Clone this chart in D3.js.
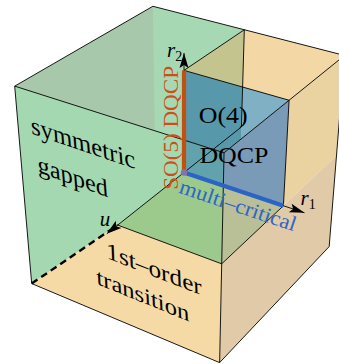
<!DOCTYPE html>
<html>
<head>
<meta charset="utf-8">
<script src="https://cdn.jsdelivr.net/npm/d3@7"></script>
<style>
  html, body { margin: 0; padding: 0; background: #ffffff; }
  svg { display: block; }
</style>
</head>
<body>
<div id="chart"></div>
<script>
// Phase diagram in the (r1, r2, u) parameter cube, every coordinate in [-1, 1].

// named points of the cube, as [name, r1, r2, u]
const vertices = [
  ["a", -1, 1, 1], ["b", -1, 1, -1], ["c", 1, 1, -1], ["d", 1, 1, 1],
  ["e", -1, -1, 1], ["f", 1, -1, 1], ["g", 1, -1, -1], ["h", -1, -1, -1],
  ["O", 0, 0, 0], ["T", 0, 1, 0], ["TB", 0, 1, -1], ["TR", 1, 1, 0],
  ["R", 1, 0, 0], ["RB", 1, 0, -1], ["F", 0, 0, 1], ["FR", 1, 0, 1],
  ["OB", 0, 0, -1], ["BB", 0, -1, -1]
];

// faces and sub-faces, as lists of point names
const faces = [
  ["top", ["a", "b", "c", "d"]],
  ["left", ["a", "b", "h", "e"]],
  ["backNeg", ["b", "TB", "BB", "h"]],
  ["backPos", ["TB", "c", "g", "BB"]],
  ["front", ["a", "d", "f", "e"]],
  ["right", ["d", "c", "g", "f"]],
  ["topOct", ["T", "TB", "c", "TR"]],
  ["frontUpper", ["e", "a", "d", "FR", "F"]],
  ["frontLower", ["e", "F", "FR", "f"]],
  ["rightUpper", ["d", "c", "RB", "FR"]],
  ["rightLower", ["FR", "RB", "g", "f"]],
  ["floor", ["F", "O", "R", "FR"]],
  ["o4", ["O", "T", "TR", "R"]]
];

// paint order: face, faces it is seen through, tint
const layers = [
  ["top", [], "topGreen"],
  ["left", ["top"], "topGray"],
  ["topOct", [], "topOrange"],
  ["backNeg", ["topOct"], "khaki"],
  ["frontUpper", [], "frontGreen"],
  ["frontLower", [], "frontOrange"],
  ["rightUpper", [], "rightTan"],
  ["rightLower", [], "rightTanLow"],
  ["floor", ["front"], "floorGreen"],
  ["floor", ["right"], "floorRight"],
  ["o4", ["top", "backNeg"], "blueTopL"],
  ["o4", ["top", "backPos"], "blueTopR"],
  ["o4", ["front"], "blueFront"],
  ["o4", ["right"], "blueRight"]
];

// thin edges
const edges = [
  ["a", "b"], ["b", "c"], ["c", "g"], ["g", "f"], ["f", "e"], ["e", "a"],
  ["a", "d"], ["d", "c"], ["d", "f"],
  ["T", "TB"], ["T", "TR"], ["TR", "R"], ["TB", "OB"], ["F", "FR"], ["FR", "R"]
];

// axes: name, start, end (arrow tip)
const axes = [
  ["r1", [0, 0, 0], [1.2, 0, 0]],
  ["r2", [0, 0, 0], [0, 1.16, 0]],
  ["u", [0, 0, -1], [0, 0, 1.15]]
];

// critical lines on the u = 0 plane
const criticalLines = [
  ["SO(5) DQCP", "O", "T"],
  ["multi\u2013critical", "O", "R"]
];

// first-order boundary on the u = 1 face
const firstOrderEdge = ["e", "F"];

// phase labels written on the front face (r1, r2 at u = 1)
const faceLabels = [
  ["symmetric", -0.86, 0.6],
  ["gapped", -0.82, 0.24],
  ["1st\u2013order", -0.13, -0.38],
  ["transition", -0.25, -0.7]
];

// labels on the u = 0 plane
const planeLabels = [
  ["O(4)", 0.15, 0.54],
  ["DQCP", 0.16, 0.147]
];

const tints = {
  topGreen: "#a6d9b3", topGray: "#a7c8aa", topOrange: "#f3d8a6", khaki: "#c4c48f",
  frontGreen: "#a4d8b1", frontOrange: "#f6daa6", rightTan: "#ead3a1", rightTanLow: "#e0caa8",
  floorGreen: "#9cc98c", floorRight: "#b9bf97",
  blueTopL: "#5898ab", blueTopR: "#7fb0c4", blueFront: "#62a2ad", blueRight: "#7a9bb8"
};

const W = 339, H = 364;
const view = { azimuth: 33, elevation: 31, distance: 10 };
const sx = d3.scaleLinear().domain([-1, 1]).range([184 - 113, 184 + 113]);
const sy = d3.scaleLinear().domain([-1, 1]).range([172.5 + 113, 172.5 - 113]);

function project([r1, r2, u]) {
  const az = view.azimuth * Math.PI / 180, el = view.elevation * Math.PI / 180;
  const xp = r1 * Math.cos(az) - u * Math.sin(az);
  const zp = r1 * Math.sin(az) + u * Math.cos(az);
  const yUp = r2 * Math.cos(el) - zp * Math.sin(el);
  const w = r2 * Math.sin(el) + zp * Math.cos(el);
  const k = view.distance / (view.distance - w);
  return [sx(xp * k), sy(yUp * k)];
}

const pt = new Map(vertices.map(([n, a, b, c]) => [n, [a, b, c]]));
const faceMap = new Map(faces);
const line = d3.line();
const facePath = name => line(faceMap.get(name).map(n => project(pt.get(n)))) + "Z";

const svg = d3.select("#chart").append("svg")
  .attr("width", W).attr("height", H).attr("viewBox", `0 0 ${W} ${H}`);

const defs = svg.append("defs");
faces.forEach(([name]) => {
  defs.append("clipPath").attr("id", "clip-" + name)
    .append("path").attr("d", facePath(name));
});

// filled regions
const regions = svg.append("g");
layers.forEach(([face, through, tint]) => {
  let parent = regions;
  through.forEach(c => { parent = parent.append("g").attr("clip-path", `url(#clip-${c})`); });
  parent.append("path").attr("d", facePath(face)).attr("fill", tints[tint]);
});

// edges
svg.append("g").selectAll("path").data(edges).join("path")
  .attr("d", ([p, q]) => line([project(pt.get(p)), project(pt.get(q))]))
  .attr("stroke", "#000").attr("stroke-width", 0.9).attr("fill", "none");

// first-order boundary
svg.append("path")
  .attr("d", line(firstOrderEdge.map(n => project(pt.get(n)))))
  .attr("stroke", "#000").attr("stroke-width", 2.4).attr("stroke-dasharray", "7 4.5")
  .attr("fill", "none");

// axes with arrow heads
function arrowHead(from, to, len, half) {
  const P = project(to), Q = project(from);
  const dx = P[0] - Q[0], dy = P[1] - Q[1], n = Math.hypot(dx, dy);
  const ux = dx / n, uy = dy / n;
  const bx = P[0] - ux * len, by = P[1] - uy * len;
  return `M${P[0]},${P[1]}L${bx - uy * half},${by + ux * half}L${bx + ux * 3},${by + uy * 3}L${bx + uy * half},${by - ux * half}Z`;
}
const axisG = svg.append("g");
axes.forEach(([name, s, t]) => {
  axisG.append("path").attr("d", line([project(s), project(t)]))
    .attr("stroke", "#000").attr("stroke-width", 0.9).attr("fill", "none");
});

// critical lines
const lineColor = { "SO(5) DQCP": "#c4500f", "multi\u2013critical": "#2b63c6" };
criticalLines.forEach(([name, p, q]) => {
  svg.append("path").attr("d", line([project(pt.get(p)), project(pt.get(q))]))
    .attr("stroke", lineColor[name]).attr("stroke-width", 4.2).attr("fill", "none");
});
const o = project(pt.get("O"));
svg.append("circle").attr("cx", o[0]).attr("cy", o[1]).attr("r", 3.2).attr("fill", "#8a6fae");

axes.forEach(([name, s, t]) => {
  const back = t.map(v => v * 0.9);
  axisG.append("path").attr("d", arrowHead(back, t, 15, 4.5)).attr("fill", "#000");
});

// labels
const serif = "'Liberation Serif', 'Times New Roman', serif";
const widen = "scale(1.08,1)";
// text laid on a plane of the cube: local frame of the projection, 1 text unit = 0.01 cube units
function planeTransform(p, du, dv) {
  const P = project(p), eps = 0.001;
  const A = project(p.map((v, i) => v + du[i] * eps));
  const B = project(p.map((v, i) => v + dv[i] * eps));
  const ex = [(A[0] - P[0]) / eps / 100, (A[1] - P[1]) / eps / 100];
  const ey = [(B[0] - P[0]) / eps / 100, (B[1] - P[1]) / eps / 100];
  return `matrix(${ex[0]},${ex[1]},${-ey[0]},${-ey[1]},${P[0]},${P[1]})`;
}
faceLabels.forEach(([txt, r1, r2]) => {
  svg.append("text")
    .attr("transform", planeTransform([r1, r2, 1], [1, 0, 0], [0, 1, 0]) + " " + widen)
    .attr("font-family", serif).attr("font-size", 24.5).attr("fill", "#000").text(txt);
});
planeLabels.forEach(([txt, r1, r2]) => {
  const P = project([r1, r2, 0]);
  svg.append("text").attr("transform", `translate(${P[0]},${P[1]}) ${widen}`)
    .attr("font-family", serif).attr("font-size", 24).attr("fill", "#000").text(txt);
});

// critical line labels
{
  const mid = project([0, 0.45, 0]);
  svg.append("text").attr("transform", `translate(${mid[0] - 6},${mid[1]}) rotate(-90) scale(1.1,1)`)
    .attr("text-anchor", "middle").attr("font-family", serif).attr("font-size", 21)
    .attr("fill", "#cf4d1a").text(criticalLines[0][0]);
  const A = project([0, 0, 0]), B = project([1, 0, 0]);
  const ang = Math.atan2(B[1] - A[1], B[0] - A[0]) * 180 / Math.PI;
  const m = project([0.6, 0, 0]);
  svg.append("text").attr("transform", `translate(${m[0]},${m[1]}) rotate(${ang}) ${widen}`)
    .attr("x", 0).attr("y", 21).attr("text-anchor", "middle")
    .attr("font-family", serif).attr("font-size", 21)
    .attr("fill", "#2f64c8").text(criticalLines[1][0]);
}

// axis labels
function axisLabel(tip, base, sub, dx, dy) {
  const P = project(tip);
  const t = svg.append("text").attr("x", P[0] + dx).attr("y", P[1] + dy)
    .attr("font-family", serif).attr("font-size", 21).attr("fill", "#000");
  t.append("tspan").attr("font-style", "italic").text(base);
  if (sub) t.append("tspan").attr("font-size", 14).attr("dy", 4).text(sub);
  return t;
}
axisLabel(axes[1][2], "r", "2", -17, 4);
axisLabel(axes[0][2], "r", "1", -4, -8);
axisLabel(axes[2][2], "u", null, -7, -8);
</script>
</body>
</html>
